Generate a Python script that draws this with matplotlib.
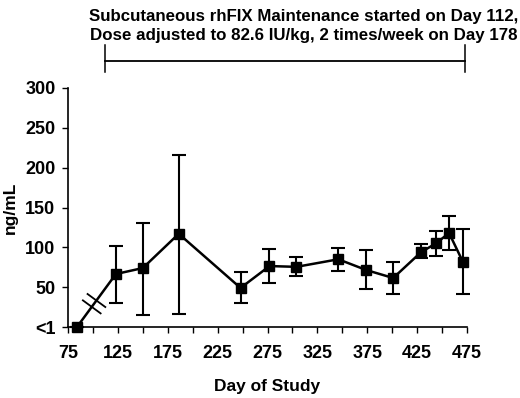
import numpy as np
import matplotlib
matplotlib.use("Agg")
import matplotlib.pyplot as plt
import matplotlib.transforms as mtransforms

# data
days = [84, 123, 150, 186, 248, 277, 304, 346, 374, 401, 429, 444, 457, 471]
level = [0, 66.5, 74, 117, 49, 76.5, 75.5, 85, 71.5, 61.5, 94, 105, 118, 81.5]
err_hi = [0, 102, 130.5, 216, 69, 98, 88, 99, 96.5, 82, 104, 120, 139, 123]
err_lo = [0, 30.5, 15, 16, 30, 55, 64, 70, 47.5, 41.5, 86, 89, 96.5, 41.5]

x_ticks = [75, 125, 175, 225, 275, 325, 375, 425, 475]
y_ticks = [0, 50, 100, 150, 200, 250, 300]
y_labels = ["<1", "50", "100", "150", "200", "250", "300"]

bracket_start, bracket_end = 112, 473
title = ("Subcutaneous rhFIX Maintenance started on Day 112,\n"
         "Dose adjusted to 82.6 IU/kg, 2 times/week on Day 178")

plt.rcParams['font.family'] = ['Liberation Sans', 'DejaVu Sans']
plt.rcParams['font.weight'] = 'bold'

fig = plt.figure(figsize=(5.2, 3.98), dpi=100)
ax = fig.add_axes([68 / 520, 71 / 398, 399 / 520, 239 / 398])

ax.set_xlim(75, 475)
ax.set_ylim(0, 300)

lo = np.array(level) - np.array(err_lo)
hi = np.array(err_hi) - np.array(level)
ax.errorbar(days, level, yerr=[lo, hi], color='black', lw=1.8, elinewidth=1.5,
            capsize=5, capthick=1.5, marker='s', ms=7, mfc='black', mec='black',
            clip_on=False, zorder=3)

# axis break marks across the first segment (in pixel space)
p0 = ax.transData.transform((days[0], level[0]))
p1 = ax.transData.transform((days[1], level[1]))
d = (p1 - p0) / np.hypot(*(p1 - p0))
n = np.array([d[1], -d[0]])
for t in (0.38, 0.50):
    c = p0 + t * (p1 - p0)
    a, b = c - n * 11, c + n * 11
    ax.plot([a[0], b[0]], [a[1], b[1]], color='black', lw=1.3,
            transform=None, clip_on=False, zorder=4)

ax.set_xticks(x_ticks)
ax.set_xticks(np.arange(75, 476, 25), minor=True)
ax.set_yticks(y_ticks)
ax.set_yticklabels(y_labels)
ax.tick_params(axis='both', labelsize=13, width=1, length=4, direction='out')
ax.tick_params(axis='x', pad=9)
ax.tick_params(axis='y', pad=5)
ax.tick_params(axis='x', which='minor', length=4, width=1)
for lab in ax.get_xticklabels() + ax.get_yticklabels():
    lab.set_fontweight('bold')
for s in ['top', 'right']:
    ax.spines[s].set_visible(False)
for s in ['left', 'bottom']:
    ax.spines[s].set_linewidth(1.2)

ax.set_xlabel("Day of Study", fontsize=12.5, fontweight='bold', labelpad=12)
ax.set_ylabel("ng/mL", fontsize=12.5, fontweight='bold', labelpad=5)

# bracket for maintenance period
trans = mtransforms.blended_transform_factory(ax.transData, fig.transFigure)
yb = 1 - 61 / 398
ax.plot([bracket_start, bracket_end], [yb, yb], color='black', lw=1.3,
        transform=trans, clip_on=False)
for xb in (bracket_start, bracket_end):
    ax.plot([xb, xb], [1 - 45 / 398, 1 - 72 / 398], color='black', lw=1.1,
            transform=trans, clip_on=False)

fig.text(304 / 520, 1 - 26 / 398, title, ha='center', va='center',
         fontsize=12.2, fontweight='bold', linespacing=1.4)

fig.savefig("out.png", dpi=100)
